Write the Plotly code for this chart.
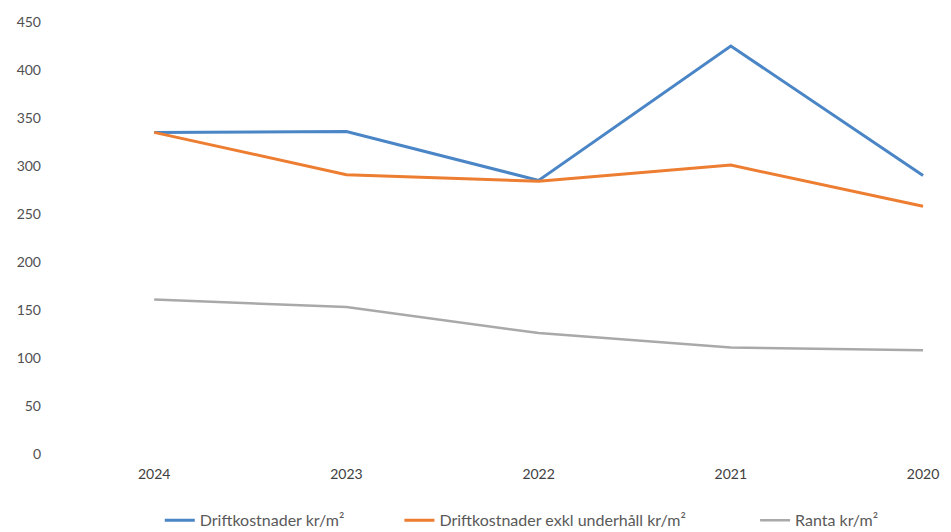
import plotly.graph_objects as go

years = ["2024", "2023", "2022", "2021", "2020"]
drift = [335, 336, 285, 425, 290]
drift_exkl = [335, 291, 284, 301, 258]
ranta = [161, 153, 126, 111, 108]
y_ticks = [0, 50, 100, 150, 200, 250, 300, 350, 400, 450]

series = [
    ("Driftkostnader kr/m²", drift, "#4A85C6", 3, "legend", 0.168),
    ("Driftkostnader exkl underhåll kr/m²", drift_exkl, "#ED7D31", 3, "legend2", 0.420),
    ("Ranta kr/m²", ranta, "#A9A9A9", 2.5, "legend3", 0.794),
]

fig = go.Figure()
legends = {}
for name, vals, color, w, lg, lx in series:
    fig.add_trace(go.Scatter(x=years, y=vals, mode="lines", name=name, legend=lg,
                             line=dict(color=color, width=w)))
    legends[lg] = dict(orientation="h", xref="container", yref="container",
                       x=lx, xanchor="left", y=0.022, yanchor="middle",
                       font=dict(size=16, color="#595959"), bgcolor="rgba(0,0,0,0)")

fig.update_layout(
    width=951, height=532,
    margin=dict(l=50, r=15, t=22, b=78),
    plot_bgcolor="white", paper_bgcolor="white",
    font=dict(family="Lato, Open Sans, sans-serif", size=14, color="#595959"),
    showlegend=True,
    xaxis=dict(type="category", range=[-0.542, 4.031], showgrid=False, showline=False,
               zeroline=False, ticks="", ticklabelstandoff=10,
               tickfont=dict(size=14, color="#404040")),
    yaxis=dict(range=[0, 450], tickvals=y_ticks, showgrid=False, showline=False,
               zeroline=False, ticks="", ticklabelstandoff=8,
               tickfont=dict(size=14, color="#505050")),
    **legends,
)

fig.write_html("out.html")
